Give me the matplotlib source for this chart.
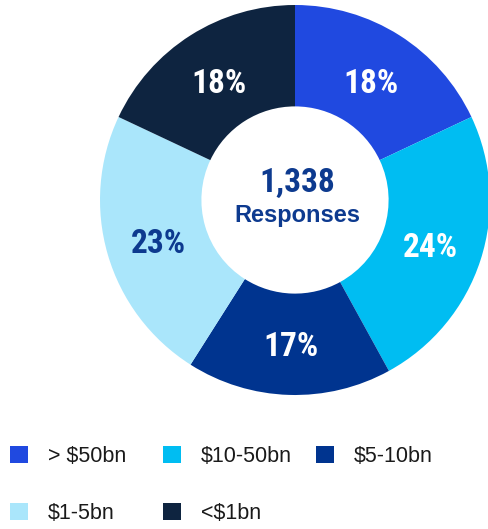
import numpy as np
import matplotlib.pyplot as plt
from matplotlib.patches import Patch

# survey split by company size
labels = ['> $50bn', '$10-50bn', '$5-10bn', '$1-5bn', '<$1bn']
shares = [18, 24, 17, 23, 18]
colors = ['#2049E0', '#00BDF2', '#00348F', '#AAE6FB', '#0E2440']
label_colors = ['white', 'white', 'white', '#0D3A8F', 'white']
total_text = '1,338'
center_sub = 'Responses'

fig = plt.figure(figsize=(4.88, 5.29), dpi=100)
ax = fig.add_axes([100 / 488, 1 - 395 / 529, 390 / 488, 390 / 529])

wedges, _ = ax.pie(shares, colors=colors, startangle=90, counterclock=False,
                   radius=1.0, wedgeprops=dict(width=0.52, linewidth=0))
ax.set_aspect('equal')
ax.set_xlim(-1, 1)
ax.set_ylim(-1, 1)
ax.axis('off')

cond = dict(fontweight='bold', fontstretch='condensed',
            family=['Roboto Condensed', 'DejaVu Sans'])
for w, s, tc in zip(wedges, shares, label_colors):
    mid = np.deg2rad((w.theta1 + w.theta2) / 2)
    r = 0.73
    ax.text(r * np.cos(mid), r * np.sin(mid) - 0.005, f'{s}%', ha='center',
            va='center_baseline', color=tc, fontsize=24, **cond)

ax.text(0.01, 0.105, total_text, ha='center', va='center_baseline', color='#0D3A8F',
        fontsize=24, **cond)
ax.text(0.01, -0.08, center_sub, ha='center', va='center', color='#0D3A8F',
        fontsize=17, fontweight='bold', family=['Liberation Sans', 'DejaVu Sans'])

# legend laid out in three fixed columns, two rows
handles = [Patch(facecolor=c, edgecolor='none') for c in colors]
columns = [[0, 3], [1, 4], [2]]
col_x = [10, 163, 316]
for idx, x in zip(columns, col_x):
    fig.legend([handles[i] for i in idx], [labels[i] for i in idx],
               loc='upper left', bbox_to_anchor=(x / 488, 1 - 446 / 529),
               frameon=False, borderpad=0, borderaxespad=0,
               handlelength=0.85, handleheight=0.85, handletextpad=0.9,
               labelspacing=1.65, labelcolor='#1A1A1A',
               prop=dict(family=['Liberation Sans', 'DejaVu Sans'], size=15.5))

fig.savefig('out.png', dpi=100)
